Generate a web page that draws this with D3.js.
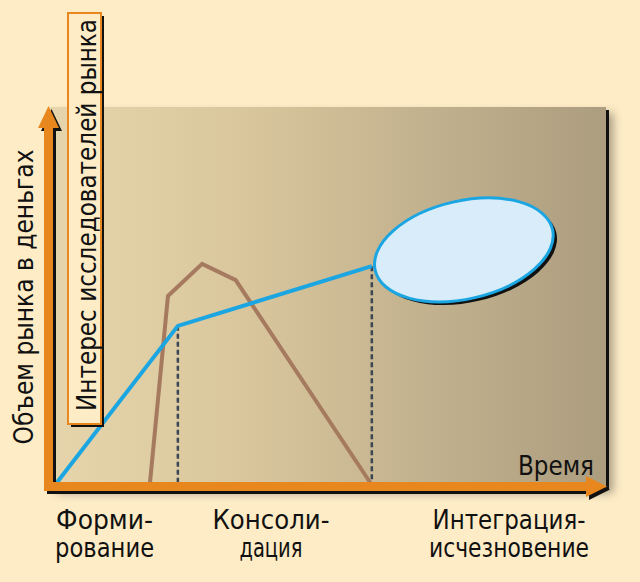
<!DOCTYPE html>
<html><head><meta charset="utf-8">
<script src="https://cdn.jsdelivr.net/npm/d3@7"></script>
<style>
html,body{margin:0;padding:0;background:#FEECC6;}
svg{display:block;}
text{font-family:"Liberation Sans Narrow","DejaVu Sans Condensed","Roboto",sans-serif;fill:#111;}
</style></head><body>
<script>
// ---- data ----
const investmentT = [0, 22.3, 57.5];          // blue line: market volume in money
const investmentV = [0, 42.1, 57.9];
const interestT = [17.2, 20.5, 26.7, 32.8, 57.5]; // brown line: researchers' interest
const interestV = [0, 50.0, 58.5, 54.2, 0];
const phaseMarksT = [22.3, 57.5];             // dashed phase boundaries
const phaseMarksV = [42.1, 57.9];
const ellipseT = 74.2, ellipseV = 62.2;
const phaseLabels = [["Форми-","рование"],["Консоли-","дация"],["Интеграция-","исчезновение"]];
const phaseLabelT = [9.0, 39.2, 82.4];
const yTitle = "Объем рынка в деньгах";
const xTitle = "Время";
const interestTitle = "Интерес исследователей рынка";

const W = 640, H = 582;
const x = d3.scaleLinear().domain([0,100]).range([55,606]);
const y = d3.scaleLinear().domain([0,100]).range([485,107]);

const svg = d3.select("body").append("svg").attr("width",W).attr("height",H);
const defs = svg.append("defs");
const grad = defs.append("linearGradient").attr("id","bg").attr("x1",0).attr("x2",1).attr("y1",0).attr("y2",0);
grad.append("stop").attr("offset","0%").attr("stop-color","#E6D5AC");
grad.append("stop").attr("offset","35%").attr("stop-color","#D9C69D");
grad.append("stop").attr("offset","100%").attr("stop-color","#AC9D7F");
const f = defs.append("filter").attr("id","ds").attr("x","-10%").attr("y","-10%").attr("width","130%").attr("height","130%");
f.append("feDropShadow").attr("dx",7).attr("dy",6).attr("stdDeviation",5).attr("flood-color","#000").attr("flood-opacity",0.35);

svg.append("rect").attr("width",W).attr("height",H).attr("fill","#FEECC6");

// plot area
const px0 = 50, px1 = 606, py0 = 107, py1 = 487;
svg.append("rect").attr("x",px0).attr("y",py0).attr("width",px1-px0).attr("height",py1-py0)
  .attr("fill","url(#bg)").attr("filter","url(#ds)");
svg.append("rect").attr("x",px1).attr("y",py0+3).attr("width",3).attr("height",py1-py0).attr("fill","#111");

// dashed phase lines
svg.selectAll(".dash").data(phaseMarksT).join("line")
  .attr("x1",d=>x(d)).attr("x2",d=>x(d))
  .attr("y1",(d,i)=>y(phaseMarksV[i])).attr("y2",y(0))
  .attr("stroke","#3A4656").attr("stroke-width",2.5).attr("stroke-dasharray","5,3");

const line = d3.line().x(d=>x(d[0])).y(d=>y(d[1]));
// brown
svg.append("path").attr("d",line(interestT.map((t,i)=>[t,interestV[i]])))
  .attr("fill","none").attr("stroke","#A57A5F").attr("stroke-width",4).attr("stroke-linejoin","miter");
// blue
svg.append("path").attr("d",line(investmentT.map((t,i)=>[t,investmentV[i]])))
  .attr("fill","none").attr("stroke","#1BA6E2").attr("stroke-width",4).attr("stroke-linejoin","miter");

// ellipse
const eg = svg.append("g").attr("transform",`translate(${x(ellipseT)},${y(ellipseV)}) rotate(-13)`);
eg.append("ellipse").attr("cx",3).attr("cy",4).attr("rx",91).attr("ry",49).attr("fill","#111");
eg.append("ellipse").attr("rx",91).attr("ry",49).attr("fill","#D8ECFA").attr("stroke","#1BA6E2").attr("stroke-width",3);

// axes arrows
function arrows(g, col){
  g.append("rect").attr("x",44).attr("y",126).attr("width",9).attr("height",365).attr("fill",col);
  g.append("path").attr("d","M38,128 L48.5,106 L59,128 Z").attr("fill",col);
  g.append("rect").attr("x",44).attr("y",482).attr("width",545).attr("height",9).attr("fill",col);
  g.append("path").attr("d","M586,476 L607,486.5 L586,497 Z").attr("fill",col);
}
arrows(svg.append("g").attr("transform","translate(3,3)"), "#111");
arrows(svg.append("g"), "#E8871E");

function fitText(sel, len){
  return sel.attr("textLength",len).attr("lengthAdjust","spacingAndGlyphs");
}

// label box
svg.append("rect").attr("x",71).attr("y",16).attr("width",33).attr("height",411).attr("fill","#111");
svg.append("rect").attr("x",68).attr("y",13).attr("width",33).attr("height",411)
  .attr("fill","#FEECC6").attr("stroke","#E8871E").attr("stroke-width",2);
fitText(svg.append("text").attr("transform","translate(96,215) rotate(-90)").attr("text-anchor","middle")
  .attr("font-size",27).text(interestTitle), 392);

// y title
fitText(svg.append("text").attr("transform","translate(33,297) rotate(-90)").attr("text-anchor","middle")
  .attr("font-size",27).text(yTitle), 295);
// x title
fitText(svg.append("text").attr("x",518).attr("y",475).attr("font-size",27).text(xTitle), 76);

// phase labels
const lineLens = [[97,99],[117,63],[153,160]];
phaseLabels.forEach((lines,i)=>{
  lines.forEach((s,j)=>{
    fitText(svg.append("text").attr("x",x(phaseLabelT[i])).attr("y",529+j*28).attr("text-anchor","middle")
      .attr("font-size",26).text(s), lineLens[i][j]);
  });
});
</script>
</body></html>
